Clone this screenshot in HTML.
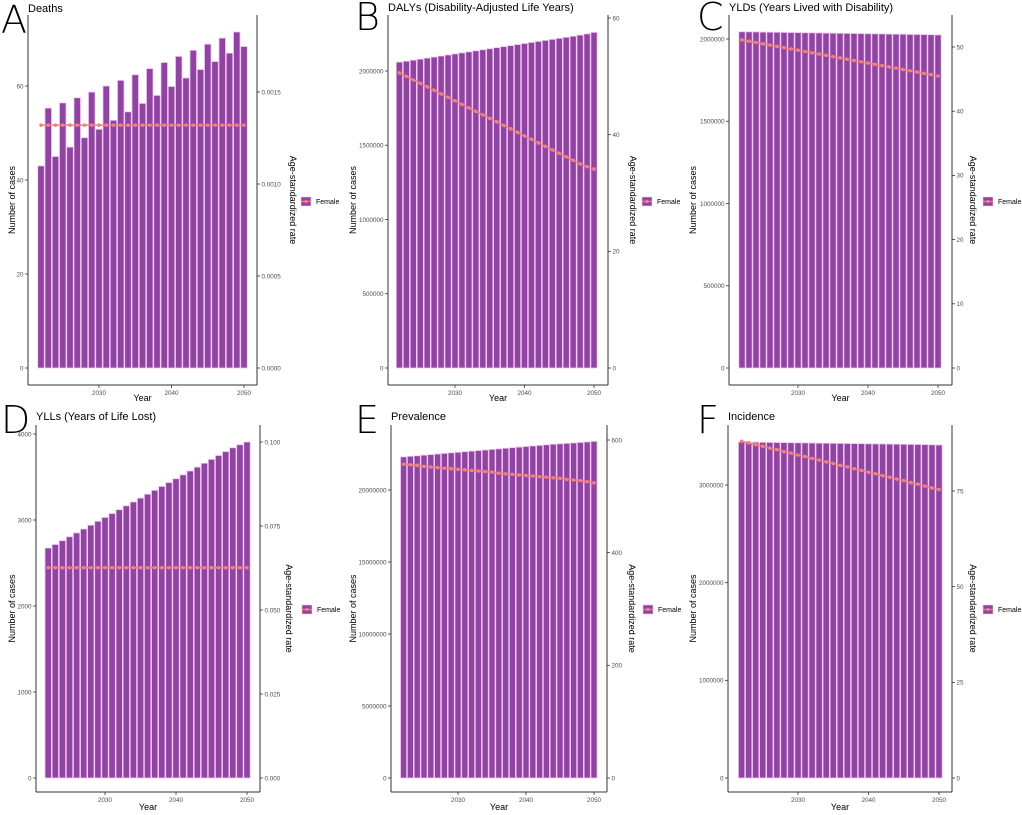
<!DOCTYPE html>
<html><head><meta charset="utf-8">
<style>
html,body{margin:0;padding:0;background:#fff;}
svg{display:block;font-family:"Liberation Sans",sans-serif;}
.tick{font-size:6.3px;fill:#4d4d4d;}
.axt{font-size:9px;fill:#000;}
.ttl{font-size:11px;fill:#000;}
.let{font-size:38px;fill:#000;font-family:"DejaVu Sans ExtraLight","DejaVu Sans Light","Liberation Sans",sans-serif;font-weight:200;}
.leg{font-size:7px;fill:#000;}
</style></head>
<body>
<svg id="fig" width="1022" height="815" viewBox="0 0 1022 815" xmlns="http://www.w3.org/2000/svg"></svg>
<script>
const years = [2022,2023,2024,2025,2026,2027,2028,2029,2030,2031,2032,2033,2034,2035,2036,2037,2038,2039,2040,2041,2042,2043,2044,2045,2046,2047,2048,2049,2050];
const xTicks = [2030,2040,2050];

const deathsCases = [43,55.3,45,56.4,47,57.5,49,58.7,50.8,60,52.7,61.2,54.5,62.4,56.3,63.7,58,65,59.9,66.3,61.7,67.6,63.5,68.9,65.2,70.2,67,71.5,68.4];
const deathsRate = [0.00132,0.00132,0.00132,0.00132,0.00132,0.00132,0.00132,0.00132,0.00132,0.00132,0.00132,0.00132,0.00132,0.00132,0.00132,0.00132,0.00132,0.00132,0.00132,0.00132,0.00132,0.00132,0.00132,0.00132,0.00132,0.00132,0.00132,0.00132,0.00132];
const dalysCases = [2060000,2066000,2073000,2080000,2087000,2094000,2101000,2108000,2115000,2122000,2129000,2136000,2143000,2150000,2157000,2164000,2171000,2178000,2185000,2192000,2199000,2206000,2213000,2220000,2227000,2234000,2242000,2250000,2260000];
const dalysRate = [50.6,50.0,49.4,48.8,48.2,47.6,47.0,46.4,45.8,45.2,44.6,44.0,43.4,42.8,42.2,41.6,41.0,40.4,39.8,39.2,38.6,38.0,37.4,36.8,36.2,35.6,35.0,34.5,34.1];
const yldsCases = [2044000,2043500,2043000,2042000,2041500,2041000,2040000,2039500,2039000,2038000,2037500,2037000,2036000,2035500,2035000,2034000,2033500,2033000,2032000,2031500,2031000,2030000,2029500,2029000,2028000,2027500,2027000,2026000,2025000];
const yldsRate = [51.1,50.9,50.7,50.5,50.3,50.1,49.9,49.7,49.5,49.3,49.1,48.9,48.7,48.5,48.3,48.1,47.9,47.7,47.5,47.3,47.1,46.9,46.7,46.5,46.3,46.1,45.9,45.7,45.5];
const yllsCases = [2674,2715,2760,2805,2850,2895,2940,2985,3030,3075,3120,3165,3210,3255,3300,3345,3390,3435,3480,3525,3570,3615,3660,3705,3750,3795,3840,3875,3907];
const yllsRate = [0.0626,0.0626,0.0626,0.0626,0.0626,0.0626,0.0626,0.0626,0.0626,0.0626,0.0626,0.0626,0.0626,0.0626,0.0626,0.0626,0.0626,0.0626,0.0626,0.0626,0.0626,0.0626,0.0626,0.0626,0.0626,0.0626,0.0626,0.0626,0.0626];
const prevCases = [22300000,22340000,22380000,22420000,22460000,22500000,22540000,22580000,22620000,22660000,22700000,22740000,22780000,22820000,22860000,22900000,22940000,22980000,23020000,23060000,23100000,23140000,23180000,23210000,23240000,23270000,23300000,23340000,23380000];
const prevRate = [557,556,555,553,552,551,550,549,548,547,546,545,544,543,541,540,539,538,537,536,535,534,533,532,530,529,528,526,524];
const incCases = [3440000,3439000,3438000,3437000,3436000,3435000,3434000,3433000,3432000,3431000,3430000,3429000,3428000,3427000,3426000,3425000,3424000,3423000,3422000,3421000,3420000,3419000,3418000,3417000,3416000,3415000,3414000,3412000,3410000];
const incRate = [88.0,87.6,87.1,86.7,86.2,85.8,85.3,84.9,84.4,84.0,83.5,83.1,82.6,82.2,81.7,81.3,80.8,80.4,79.9,79.5,79.0,78.6,78.1,77.7,77.2,76.8,76.3,75.8,75.4];

const deathsLeftTicks = [0,20,40,60];
const deathsRightTicks = ["0.0000","0.0005","0.0010","0.0015"];
const dalysLeftTicks = [0,500000,1000000,1500000,2000000];
const dalysRightTicks = ["0","20","40","60"];
const yldsLeftTicks = [0,500000,1000000,1500000,2000000];
const yldsRightTicks = ["0","10","20","30","40","50"];
const yllsLeftTicks = [0,1000,2000,3000,4000];
const yllsRightTicks = ["0.000","0.025","0.050","0.075","0.100"];
const prevLeftTicks = [0,5000000,10000000,15000000,20000000];
const prevRightTicks = ["0","200","400","600"];
const incLeftTicks = [0,1000000,2000000,3000000];
const incRightTicks = ["0","25","50","75"];

const NS="http://www.w3.org/2000/svg";
const svg=document.getElementById('fig');
function mk(tag,attrs,parent){const e=document.createElementNS(NS,tag);for(const k in attrs)e.setAttribute(k,attrs[k]);(parent||svg).appendChild(e);return e;}

const panels=[
 {id:'a',letter:'A',title:'Deaths',cases:deathsCases,rate:deathsRate,lt:deathsLeftTicks,rt:deathsRightTicks,
  L:28,R:257,top:15,axY:385,base:368,lv:60,lp:86,rv:0.0015,rp:92,x1:99,x2:244,letX:1,letY:33,ttlX:28,ttlY:12,axtX:287,keyX:301,legY:197,ylabX:12,yearY:401},
 {id:'b',letter:'B',title:'DALYs (Disability-Adjusted Life Years)',cases:dalysCases,rate:dalysRate,lt:dalysLeftTicks,rt:dalysRightTicks,
  L:388,R:608,top:15,axY:385,base:368,lv:2000000,lp:71,rv:60,rp:18,x1:455,x2:594,letX:355,letY:30,ttlX:388,ttlY:11,axtX:627,keyX:642,legY:197,ylabX:353,yearY:401},
 {id:'c',letter:'C',title:'YLDs (Years Lived with Disability)',cases:yldsCases,rate:yldsRate,lt:yldsLeftTicks,rt:yldsRightTicks,
  L:729,R:952,top:15,axY:385,base:368,lv:2000000,lp:39,rv:50,rp:47,x1:798,x2:938,letX:697,letY:30,ttlX:729,ttlY:11,axtX:967,keyX:983,legY:197,ylabX:693,yearY:401},
 {id:'d',letter:'D',title:'YLLs (Years of Life Lost)',cases:yllsCases,rate:yllsRate,lt:yllsLeftTicks,rt:yllsRightTicks,
  L:36,R:260,top:425,axY:792,base:778,lv:4000,lp:434,rv:0.1,rp:442,x1:105,x2:247,letX:1,letY:433,ttlX:36,ttlY:420,axtX:283,keyX:302,legY:605,ylabX:12,yearY:810},
 {id:'e',letter:'E',title:'Prevalence',cases:prevCases,rate:prevRate,lt:prevLeftTicks,rt:prevRightTicks,
  L:391,R:607,top:425,axY:792,base:778,lv:20000000,lp:490,rv:600,rp:440,x1:458,x2:594,letX:355,letY:433,ttlX:391,ttlY:420,axtX:626,keyX:643,legY:605,ylabX:353,yearY:810},
 {id:'f',letter:'F',title:'Incidence',cases:incCases,rate:incRate,lt:incLeftTicks,rt:incRightTicks,
  L:728,R:952,top:425,axY:792,base:778,lv:3000000,lp:485,rv:75,rp:491,x1:798,x2:939,letX:697,letY:433,ttlX:728,ttlY:420,axtX:967,keyX:983,legY:605,ylabX:693,yearY:810}
];

panels.forEach(p=>{
  const g=mk('g',{});
  
  
  const xs=y=>p.x1+(y-2030)*(p.x2-p.x1)/20;
  const yl=v=>p.base-v*(p.base-p.lp)/p.lv;
  const yr=v=>p.base-v*(p.base-p.rp)/p.rv;
  const step=(p.x2-p.x1)/20, bw=step*0.9;
  const lt=mk('text',{x:p.letX,y:p.letY,class:'let'},g);lt.textContent=p.letter;
  
  
  const tt=mk('text',{x:p.ttlX,y:p.ttlY,class:'ttl'},g);tt.textContent=p.title;
  
  
  years.forEach((yr_,i)=>{
    const v=p.cases[i];
    const r=mk('rect',{x:xs(yr_)-bw/2,y:yl(v),width:bw,height:p.base-yl(v),fill:'#8E44A0',stroke:'#F3C6F3','stroke-width':0.8},g);
    
    
  });
  const pts=years.map((yr_,i)=>xs(yr_)+','+yr(p.rate[i])).join(' ');
  const pl=mk('polyline',{points:pts,fill:'none',stroke:'#F08080','stroke-width':1.6},g);
  
  
  years.forEach((yr_,i)=>{
    const c=mk('circle',{cx:xs(yr_),cy:yr(p.rate[i]),r:1.8,fill:'#F08080'},g);
    
    
  });
  const axl=mk('line',{x1:p.L,y1:p.top,x2:p.L,y2:p.axY,stroke:'#333','stroke-width':1},g);
  
  
  const axr=mk('line',{x1:p.R,y1:p.top,x2:p.R,y2:p.axY,stroke:'#333','stroke-width':1},g);
  
  
  const axb=mk('line',{x1:p.L,y1:p.axY,x2:p.R,y2:p.axY,stroke:'#333','stroke-width':1},g);
  
  
  p.lt.forEach(v=>{
    const y=yl(v);
    mk('line',{x1:p.L-3,y1:y,x2:p.L,y2:y,stroke:'#333','stroke-width':0.8},g);
    const t=mk('text',{x:p.L-4.5,y:y+2.3,class:'tick','text-anchor':'end'},g);t.textContent=v;
    
    
  });
  p.rt.forEach(s=>{
    const y=yr(parseFloat(s));
    mk('line',{x1:p.R,y1:y,x2:p.R+3,y2:y,stroke:'#333','stroke-width':0.8},g);
    const t=mk('text',{x:p.R+4.5,y:y+2.3,class:'tick'},g);t.textContent=s;
    
    
  });
  xTicks.forEach(v=>{
    const x=xs(v);
    mk('line',{x1:x,y1:p.axY,x2:x,y2:p.axY+3,stroke:'#333','stroke-width':0.8},g);
    const t=mk('text',{x:x,y:p.axY+10,class:'tick','text-anchor':'middle'},g);t.textContent=v;
    
    
  });
  const xt=mk('text',{x:(p.L+p.R)/2,y:p.yearY,class:'axt','text-anchor':'middle'},g);xt.textContent='Year';
  
  
  const mid=(p.top+p.axY)/2;
  const yt=mk('text',{x:0,y:0,class:'axt','text-anchor':'middle',transform:`translate(${p.ylabX+3},${mid}) rotate(-90)`},g);yt.textContent='Number of cases';
  
  
  const rt=mk('text',{x:0,y:0,class:'axt','text-anchor':'middle',transform:`translate(${p.axtX+3},${mid}) rotate(90)`},g);rt.textContent='Age-standardized rate';
  
  
  const lg=mk('g',{},g);
  
  
  mk('rect',{x:p.keyX,y:p.legY,width:10,height:9,fill:'#8E44A0',stroke:'#F3C6F3','stroke-width':0.6},lg);
  mk('line',{x1:p.keyX,y1:p.legY+4.5,x2:p.keyX+10,y2:p.legY+4.5,stroke:'#F08080','stroke-width':1.4},lg);
  mk('circle',{cx:p.keyX+5,cy:p.legY+4.5,r:1.6,fill:'#F08080'},lg);
  const lt2=mk('text',{x:p.keyX+15,y:p.legY+7,class:'leg'},lg);lt2.textContent='Female';
});
</script>
</body></html>
